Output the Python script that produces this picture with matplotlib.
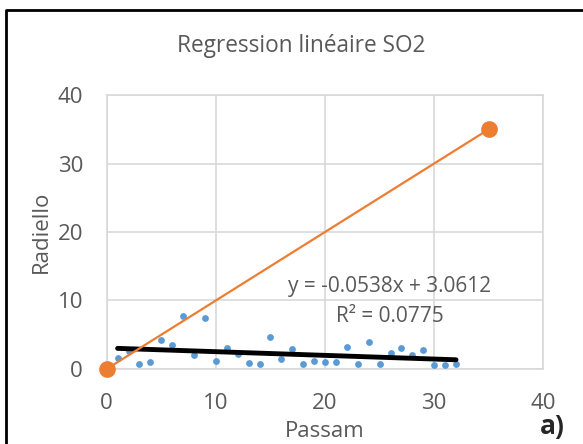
import matplotlib
matplotlib.use("Agg")
import matplotlib.pyplot as plt
from matplotlib.lines import Line2D

plt.rcParams['font.family'] = ['Open Sans', 'DejaVu Sans']

# Passam vs Radiello measurements
passam = list(range(1, 33))
radiello = [1.56, 2.6, 0.73, 0.97, 4.2, 3.5, 7.7, 2.0, 7.4, 1.1,
            3.0, 2.2, 0.83, 0.68, 4.6, 1.4, 2.9, 0.73, 1.17, 1.0,
            1.07, 3.16, 0.73, 3.9, 0.68, 2.4, 3.0, 2.0, 2.8, 0.63,
            0.58, 0.78]
# 1:1 reference line
ref_x = [0, 35]
ref_y = [0, 35]
slope = -0.0538
intercept = 3.0612
r2 = 0.0775

grey = '#595959'
fig = plt.figure(figsize=(5.83, 4.44), dpi=100)
ax = fig.add_axes([0.183, 0.169, 0.749, 0.617])

ax.scatter(passam, radiello, s=24, color='#5B9BD5', zorder=3, linewidths=0)
trend_x = [passam[0], passam[-1]]
trend_y = [slope * x + intercept for x in trend_x]
ax.plot(trend_x, trend_y, color='black', lw=3.5, zorder=4, solid_capstyle='round')
ax.plot(ref_x, ref_y, color='#ED7D31', lw=1.6, marker='o', ms=11, zorder=5, clip_on=False)

ax.text(25.9, 12.0, "y = -0.0538x + 3.0612", ha='center', va='center', fontsize=15, color=grey)
ax.text(25.9, 7.6, "R² = 0.0775", ha='center', va='center', fontsize=15, color=grey)

ax.set_xlim(0, 40)
ax.set_ylim(0, 40)
ax.set_xticks([0, 10, 20, 30, 40])
ax.set_yticks([0, 10, 20, 30, 40])
ax.grid(True, color='#d9d9d9', lw=1.2)
ax.set_axisbelow(True)
for s in ax.spines.values():
    s.set_color('#d9d9d9')
    s.set_linewidth(1.2)
ax.tick_params(length=0, labelsize=16, labelcolor=grey)
ax.tick_params(axis='y', pad=17)
ax.tick_params(axis='x', pad=17)
ax.set_xlabel("Passam", fontsize=16, color=grey)
ax.set_ylabel("Radiello", fontsize=16, color=grey)
ax.xaxis.set_label_coords(0.5, -0.19)
ax.yaxis.set_label_coords(-0.125, 0.5)
fig.text(0.517, 0.897, "Regression linéaire SO2", ha='center', va='center', fontsize=16.3, color=grey)
fig.text(0.947, 0.04, "a)", ha='center', va='center', fontsize=19, fontweight='bold', color='#262626')

fig.add_artist(Line2D([0.0103, 0.0103, 1.1], [-0.1, 0.9775, 0.9775], color='black', lw=2))

plt.savefig("out.png", dpi=100)
